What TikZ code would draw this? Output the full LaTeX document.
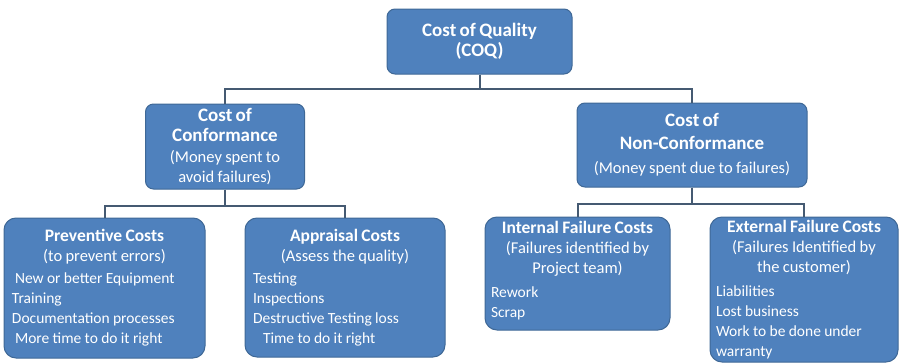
\documentclass[tikz,border=0pt]{standalone}
\usepackage{fontspec}
\setmainfont{Carlito}
\definecolor{boxblue}{HTML}{4F81BD}
\definecolor{boxline}{HTML}{3F6896}
\definecolor{linkgray}{HTML}{455A72}
\newcommand{\topfont}{\fontsize{19}{20}\selectfont\bfseries}
\newcommand{\headfont}{\fontsize{17.5}{20}\selectfont\bfseries}
\newcommand{\subfont}{\fontsize{16.5}{20}\selectfont\mdseries}
\newcommand{\itemfont}{\fontsize{15.5}{20}\selectfont\mdseries}
\begin{document}
\begin{tikzpicture}[x=1pt,y=-1pt]
        \tikzstyle{cost}=[draw=boxline,fill=boxblue,text=white,line width=1pt,rounded corners=8pt,inner sep=0pt]
        \tikzstyle{leaf}=[cost,rounded corners=12pt]
        \tikzstyle{edge}=[draw=linkgray,line width=2pt]
        \useasboundingbox (0,0) rectangle (900,364);
       \begin{scope}
         \node [cost,minimum width=185pt,minimum height=65pt,text width=180pt] (coq) at (479.5,41.5) {\centering\topfont Cost of Quality\par (COQ)\par};
         \node [cost,minimum width=159pt,minimum height=85pt,text width=155pt] (conf) at (225,146.5) {\centering\topfont Cost of\par Conformance\par\vspace{1pt}\subfont (Money spent to\par avoid failures)\par};
         \node [cost,minimum width=230pt,minimum height=84pt,text width=228pt] (nonconf) at (692,145) {\centering\topfont Cost of\par\vspace{3pt} Non-Conformance\par\vspace{4pt}\subfont (Money spent due to failures)\par};
         \node [leaf,minimum width=201pt,minimum height=140pt,text width=185pt] (prev) at (104.5,288) {\centering\headfont Preventive Costs\par\subfont (to prevent errors)\par\vspace{2pt}\raggedright\itemfont\hspace*{3pt}New or better Equipment\par Training\par Documentation processes\par\hspace*{3pt}More time to do it right\par};
         \node [leaf,minimum width=200pt,minimum height=139pt,text width=184pt] (appr) at (345,287.5) {\centering\headfont Appraisal Costs\par\subfont (Assess the quality)\par\vspace{2pt}\raggedright\itemfont Testing\par Inspections\par Destructive Testing loss\par\hspace*{10pt}Time to do it right\par};
         \node [leaf,minimum width=185pt,minimum height=113pt,text width=173pt] (intern) at (577.5,273.5) {\centering\headfont Internal Failure Costs\par\subfont (Failures identified by\par Project team)\par\vspace{4pt}\raggedright\itemfont Rework\par Scrap\par\vspace{5pt}};
         \node [leaf,minimum width=188pt,minimum height=145pt,text width=176pt] (extern) at (804,289.5) {\centering\headfont External Failure Costs\par\subfont (Failures Identified by\par the customer)\par\vspace{4pt}\raggedright\itemfont Liabilities\par Lost business\par Work to be done under\par warranty\par};
         \path[edge] (coq.south) -- ++(0,14) -| (conf.north);
         \path[edge] (coq.south) -- ++(0,14) -| (nonconf.north);
         \path[edge] (conf.south) -- ++(0,16) -| (prev.north);
         \path[edge] (conf.south) -- ++(0,16) -| (appr.north);
         \path[edge] (nonconf.south) -- ++(0,16) -| (intern.north);
         \path[edge] (nonconf.south) -- ++(0,16) -| (extern.north);
        \end{scope}
      \end{tikzpicture}
\end{document}
